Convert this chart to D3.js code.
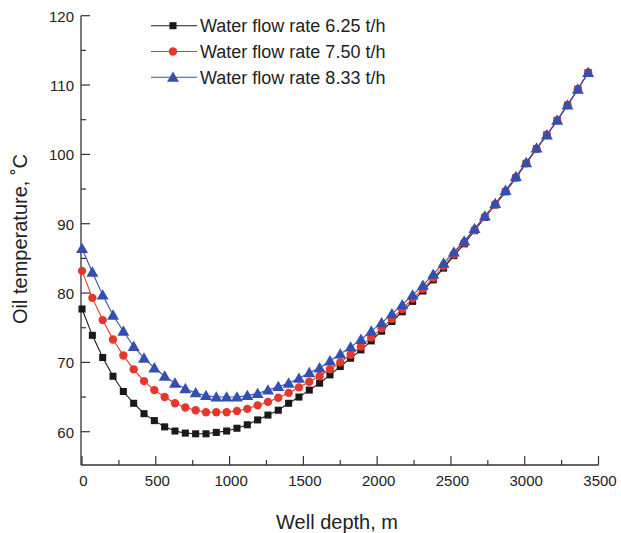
<!DOCTYPE html>
<html><head><meta charset="utf-8">
<script src="https://cdn.jsdelivr.net/npm/d3@7"></script>
<style>body{margin:0;background:#fff}svg{display:block}text{font-family:"Liberation Sans",Arial,sans-serif;fill:#222}</style>
</head><body>
<svg id="c" width="621" height="533"></svg>
<script>
const depths = d3.range(50).map(i => i * 70);
const seriesNames = ["Water flow rate 6.25 t/h", "Water flow rate 7.50 t/h", "Water flow rate 8.33 t/h"];
const flow625 = [77.7,73.9,70.7,68.0,65.8,64.1,62.6,61.6,60.7,60.1,59.8,59.7,59.7,59.9,60.1,60.5,61.0,61.7,62.4,63.1,64.1,65.0,66.0,67.0,68.2,69.4,70.6,71.8,73.1,74.5,75.9,77.3,78.8,80.3,81.9,83.6,85.4,87.1,89.0,90.9,92.7,94.6,96.6,98.7,100.8,102.8,104.9,107.1,109.4,111.8];
const flow750 = [83.2,79.3,76.1,73.3,71.0,69.0,67.3,66.0,65.0,64.1,63.5,63.1,62.8,62.8,62.8,63.0,63.3,63.8,64.3,64.9,65.6,66.4,67.2,68.0,69.0,70.0,71.1,72.3,73.6,74.9,76.3,77.7,79.2,80.6,82.2,83.9,85.6,87.3,89.1,91.0,92.8,94.7,96.7,98.7,100.8,102.8,104.9,107.1,109.4,111.8];
const flow833 = [86.4,83.0,79.7,76.8,74.5,72.3,70.6,69.2,68.0,67.0,66.2,65.6,65.2,65.0,65.0,65.0,65.2,65.5,66.0,66.5,67.0,67.7,68.5,69.2,70.2,71.2,72.2,73.3,74.5,75.7,77.0,78.3,79.7,81.1,82.7,84.3,85.9,87.5,89.3,91.1,92.9,94.8,96.8,98.8,100.9,102.8,104.9,107.1,109.4,111.8];
const xTicks = [0,500,1000,1500,2000,2500,3000,3500];
const yTicks = [60,70,80,90,100,110,120];

const colors = ["#1a1a1a", "#e6372a", "#3350b0"];
const shapes = [d3.symbolSquare, d3.symbolCircle, d3.symbolTriangle];
const sizes = [50, 55, 62];
const allSeries = [flow625, flow750, flow833];

const svg = d3.select("#c");
const x = d3.scaleLinear().domain([-7, 3500]).range([81, 598.5]);
const y = d3.scaleLinear().domain([55.2, 120]).range([465, 15.7]);

// axes
const axCol = "#333";
const gx = svg.append("g").attr("transform", "translate(0,465)");
gx.append("line").attr("x1", 81).attr("x2", x(3500)).attr("stroke", axCol).attr("stroke-width", 1.3);
gx.selectAll(".maj").data(xTicks).enter().append("line")
  .attr("x1", d => x(d)).attr("x2", d => x(d)).attr("y1", 0).attr("y2", -9).attr("stroke", axCol).attr("stroke-width", 1.2);
gx.selectAll(".min").data(d3.range(250, 3500, 500)).enter().append("line")
  .attr("x1", d => x(d)).attr("x2", d => x(d)).attr("y1", 0).attr("y2", -5).attr("stroke", axCol).attr("stroke-width", 1.2);
gx.selectAll("text").data(xTicks).enter().append("text")
  .attr("x", d => x(d) + 1.5).attr("y", 21).attr("text-anchor", "middle").attr("font-size", 15).text(d => d);

const gy = svg.append("g").attr("transform", "translate(81,0)");
gy.append("line").attr("y1", 465).attr("y2", y(120)).attr("stroke", axCol).attr("stroke-width", 1.3);
gy.selectAll(".maj").data(yTicks).enter().append("line")
  .attr("y1", d => y(d)).attr("y2", d => y(d)).attr("x1", 0).attr("x2", 9).attr("stroke", axCol).attr("stroke-width", 1.2);
gy.selectAll(".min").data(d3.range(65, 120, 10)).enter().append("line")
  .attr("y1", d => y(d)).attr("y2", d => y(d)).attr("x1", 0).attr("x2", 5).attr("stroke", axCol).attr("stroke-width", 1.2);
gy.selectAll("text").data(yTicks).enter().append("text")
  .attr("x", -7).attr("y", d => y(d) + 6).attr("text-anchor", "end").attr("font-size", 15).text(d => d);

// titles
svg.append("text").attr("x", 337).attr("y", 529).attr("text-anchor", "middle").attr("font-size", 20).text("Well depth, m");
svg.append("text").attr("transform", "translate(27,239) rotate(-90)").attr("text-anchor", "middle").attr("font-size", 20).text("Oil temperature, \u02DAC");

// series
const line = d3.line().x((d, i) => x(depths[i])).y(d => y(d));
allSeries.forEach((s, k) => {
  svg.append("path").attr("d", line(s)).attr("fill", "none").attr("stroke", colors[k]).attr("stroke-width", 1.1);
  svg.append("g").selectAll("path").data(s).enter().append("path")
    .attr("transform", (d, i) => `translate(${x(depths[i])},${y(d) + (k === 2 ? 1 : 0)})`)
    .attr("d", d3.symbol().type(shapes[k]).size(sizes[k]))
    .attr("fill", colors[k]);
});

// legend
const legY = [25.7, 51.5, 77.3];
seriesNames.forEach((n, k) => {
  const g = svg.append("g").attr("transform", `translate(0,${legY[k]})`);
  g.append("line").attr("x1", 151).attr("x2", 197).attr("stroke", colors[k]).attr("stroke-width", 1.1);
  g.append("path").attr("transform", `translate(173,${k === 2 ? 1 : 0})`).attr("d", d3.symbol().type(shapes[k]).size(sizes[k])).attr("fill", colors[k]);
  g.append("text").attr("x", 200).attr("y", 6.5).attr("font-size", 18).text(n);
});
</script>
</body></html>
